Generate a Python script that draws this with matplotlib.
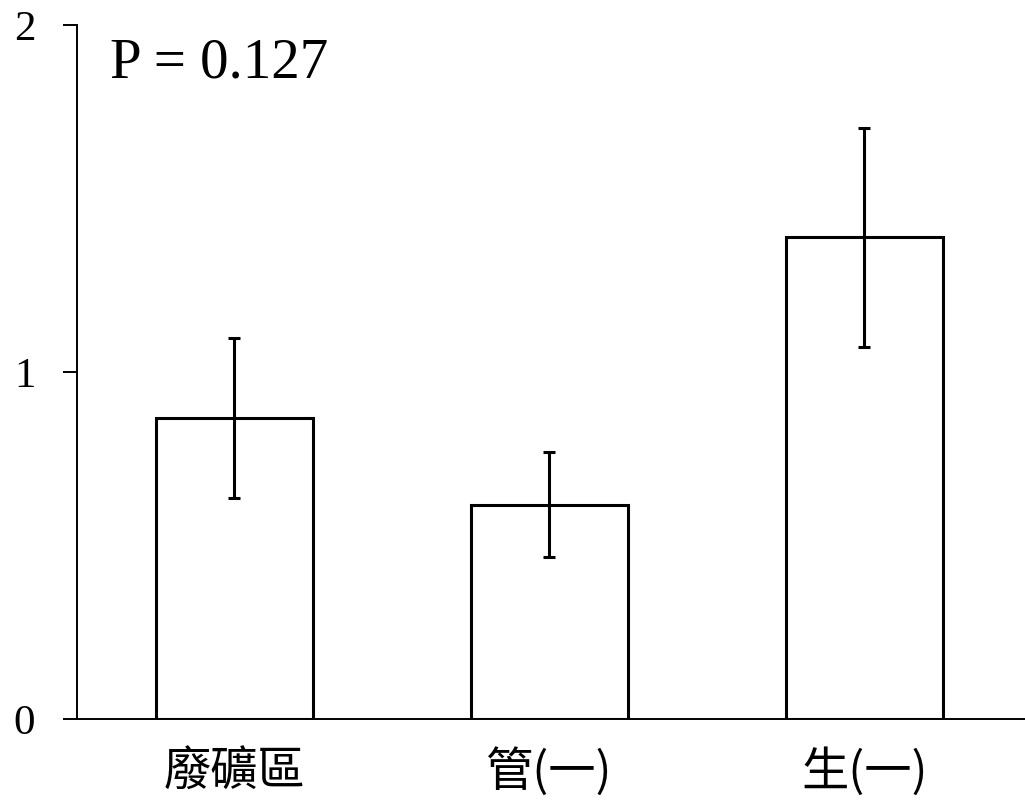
import matplotlib
matplotlib.use('Agg')
import matplotlib.pyplot as plt

# 數據
categories = ['廢礦區', '管(一)', '生(一)']
means = [0.868, 0.618, 1.388]
errors = [0.23, 0.152, 0.316]
p_text = 'P = 0.127'

plt.rcParams['font.family'] = ['Liberation Serif', 'Noto Sans CJK TC']

fig = plt.figure(figsize=(10.25, 8.06), dpi=100)
ax = fig.add_axes([0.0751, 0.108, 0.9249, 0.861])

x = range(len(categories))
ax.bar(x, means, width=0.5, color='white', edgecolor='black', linewidth=2.2, zorder=2)
ax.errorbar(x, means, yerr=errors, fmt='none', ecolor='black', elinewidth=2.2,
            capsize=4, capthick=2.2, zorder=3)

ax.set_xlim(-0.5, 2.51)
ax.set_ylim(0, 2)
ax.set_yticks([0, 1, 2])
ax.set_yticklabels(['0', '1', '2'], fontsize=31)
ax.set_xticks(list(x))
ax.set_xticklabels(categories, fontsize=34, fontweight='light',
                   family=['Noto Sans CJK TC', 'DejaVu Sans'])
ax.tick_params(axis='x', length=0, pad=21)
ax.tick_params(axis='y', length=10, width=1.4, pad=20)

for s in ['top', 'right']:
    ax.spines[s].set_visible(False)
ax.spines['left'].set_linewidth(1.4)
ax.spines['bottom'].set_linewidth(1.4)

ax.text(0.035, 0.982, p_text, transform=ax.transAxes, fontsize=41, va='top', ha='left')

plt.savefig('out.png', dpi=100)
